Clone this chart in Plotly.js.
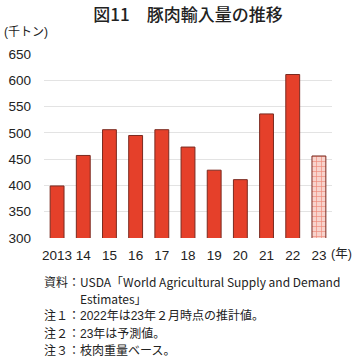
<!DOCTYPE html>
<html><head><meta charset="utf-8">
<script src="https://cdn.plot.ly/plotly-3.0.1.min.js"></script>
<style>html,body{margin:0;padding:0;background:#fff}#c{width:360px;height:359px}</style>
</head><body><div id="c"></div>
<script>
const categories = ['2013','14','15','16','17','18','19','20','21','22','23'];
const imports = [399, 457, 506, 495, 506, 473, 429, 411, 536, 611, 456];
const yTicks = [300,350,400,450,500,550,600,650];
const notes = [
  '資料：USDA「World Agricultural Supply and Demand',
  '　　　Estimates」',
  '注１：2022年は23年２月時点の推計値。',
  '注２：23年は予測値。',
  '注３：枝肉重量ベース。'
];
const FONT = '"Liberation Sans", "Noto Sans CJK JP", sans-serif';
const JFONT = '"Noto Sans CJK JP", sans-serif';
const red = '#e5402a';
const trace1 = {
  type:'bar', x: categories.slice(0,-1), y: imports.slice(0,-1),
  marker:{color:red, line:{color:'#7a2a20', width:1}},
  width:0.53, hoverinfo:'none'
};
const trace2 = {
  type:'bar', x: categories.slice(-1), y: imports.slice(-1),
  marker:{color:'#f8d3cc', line:{color:'#7a2a20', width:1},
    pattern:{shape:'+', fgcolor:'#e5402a', bgcolor:'#f8d3cc', size:5, solidity:0.25, fillmode:'overlay'}},
  width:0.53, hoverinfo:'none'
};
const annotations = [
  {text:'(千トン)', xref:'paper', yref:'paper', x:-0.146, y:1.12, xanchor:'left', yanchor:'middle', showarrow:false, font:{family:FONT, size:12, color:'#222'}},
  {text:'(年)', xref:'paper', yref:'paper', x:0.99, y:-0.085, xanchor:'left', yanchor:'middle', showarrow:false, font:{family:FONT, size:12.5, color:'#222'}}
];
const noteY = [281, 298, 315, 333, 351];
notes.forEach((t,i)=>{
  annotations.push({text:t, xref:'paper', yref:'paper', x:0, xshift:-2, y:(238 - noteY[i])/184, xanchor:'left', yanchor:'middle', showarrow:false, font:{family:(i<2?JFONT:FONT), size:12, color:'#222'}});
});
const layout = {
  width:360, height:359,
  margin:{l:44, r:28, t:54, b:121},
  paper_bgcolor:'#fff', plot_bgcolor:'#fff',
  showlegend:false, bargap:0.47,
  title:{text:'図11　豚肉輸入量の推移', x:0.5, xref:'paper', xanchor:'center', y:0.975, yanchor:'top', yref:'container', font:{family:JFONT, size:17, color:'#222', weight:500}},
  xaxis:{type:'category', categoryarray:categories, tickfont:{family:FONT, size:13.5, color:'#222'}, showline:false, ticks:'', showgrid:false, fixedrange:true, ticklabelstandoff:7},
  yaxis:{range:[300,650], tickvals:yTicks, ticktext:yTicks.map(String), tickfont:{family:FONT, size:13.5, color:'#222'}, showgrid:true, gridcolor:'#e3e3e3', gridwidth:1, zeroline:false, showline:false, ticks:'', ticklabelstandoff:12},
  annotations: annotations
};
Plotly.newPlot('c', [trace1, trace2], layout, {displayModeBar:false, staticPlot:true});
</script></body></html>
